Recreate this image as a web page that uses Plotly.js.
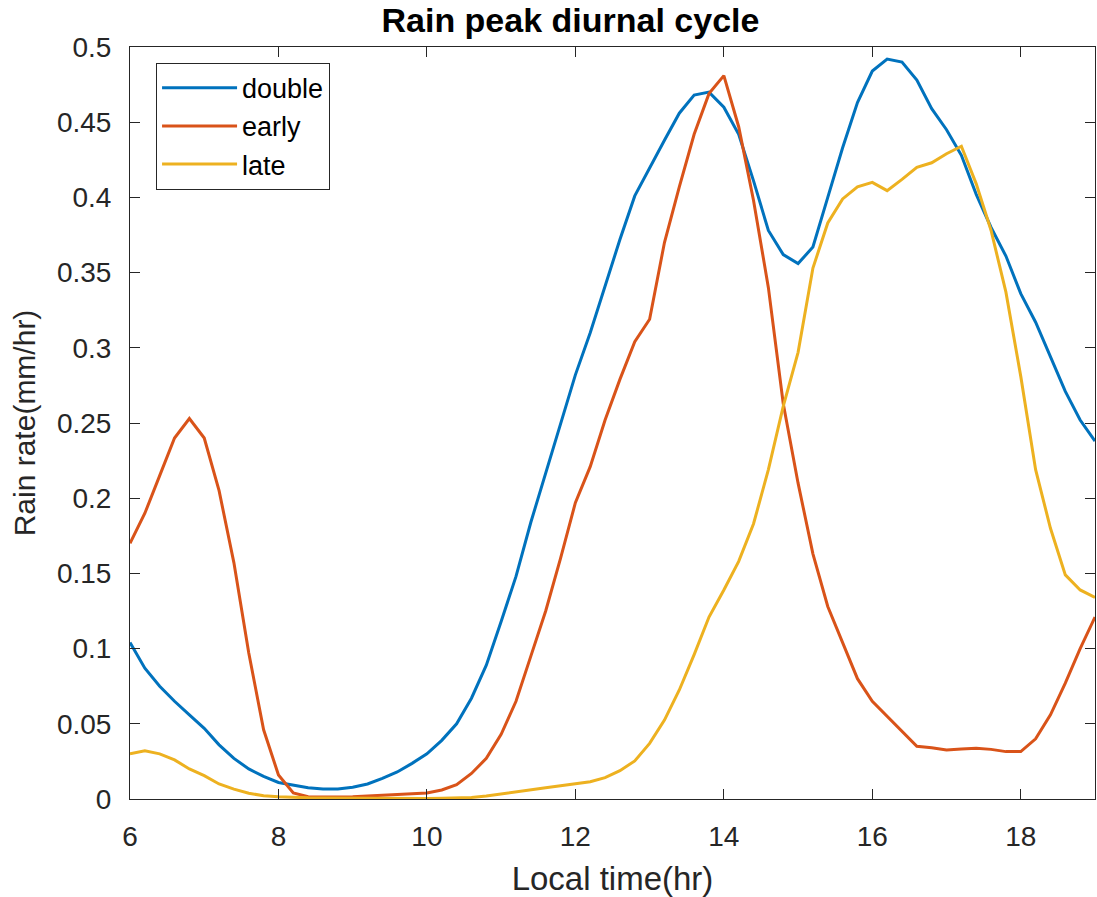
<!DOCTYPE html>
<html>
<head>
<meta charset="utf-8">
<script src="https://cdn.plot.ly/plotly-3.0.1.min.js"></script>
<style>html,body{margin:0;padding:0;background:#fff;}</style>
</head>
<body>
<div id="chart" style="width:1097px;height:897px;"></div>
<script>
const hours = [6.0,6.2,6.4,6.6,6.8,7.0,7.2,7.4,7.6,7.8,8.0,8.2,8.4,8.6,8.8,9.0,9.2,9.4,9.6,9.8,
  10.0,10.2,10.4,10.6,10.8,11.0,11.2,11.4,11.6,11.8,12.0,12.2,12.4,12.6,12.8,13.0,13.2,13.4,13.6,13.8,
  14.0,14.2,14.4,14.6,14.8,15.0,15.2,15.4,15.6,15.8,16.0,16.2,16.4,16.6,16.8,17.0,17.2,17.4,17.6,17.8,
  18.0,18.2,18.4,18.6,18.8,19.0];

const doubleRate = [0.104,0.087,0.075,0.065,0.056,0.047,0.036,0.027,0.020,0.015,0.011,0.009,0.0075,0.0067,0.0066,0.0078,0.010,0.0137,0.018,0.0237,
  0.030,0.039,0.050,0.067,0.089,0.118,0.148,0.184,0.217,0.249,0.282,0.310,0.341,0.372,0.401,0.420,0.438,0.456,0.468,0.470,
  0.460,0.442,0.411,0.378,0.362,0.356,0.367,0.400,0.433,0.463,0.484,0.492,0.490,0.478,0.459,0.445,0.428,0.402,0.380,0.361,
  0.336,0.317,0.294,0.271,0.252,0.238];

const earlyRate = [0.170,0.190,0.215,0.240,0.253,0.240,0.205,0.157,0.097,0.046,0.016,0.004,0.0015,0.0012,0.0013,0.0015,0.002,0.0025,0.003,0.0035,
  0.004,0.006,0.0095,0.017,0.027,0.043,0.065,0.095,0.125,0.160,0.197,0.221,0.252,0.279,0.304,0.319,0.370,0.407,0.442,0.469,
  0.481,0.447,0.398,0.340,0.263,0.210,0.163,0.128,0.104,0.080,0.065,0.055,0.045,0.035,0.034,0.0326,0.0332,0.0337,0.033,0.0315,
  0.0315,0.040,0.056,0.077,0.100,0.121];

const lateRate = [0.030,0.032,0.030,0.026,0.020,0.0155,0.010,0.0066,0.0038,0.0022,0.0015,0.001,0.0008,0.0007,0.0006,0.0005,0.0005,0.0005,0.0004,0.0004,
  0.0004,0.0005,0.0006,0.001,0.002,0.0035,0.005,0.0064,0.0075,0.0088,0.0104,0.0115,0.0142,0.0188,0.0253,0.037,0.0525,0.0725,0.096,0.121,
  0.139,0.158,0.183,0.219,0.261,0.297,0.353,0.383,0.399,0.407,0.410,0.4045,0.412,0.420,0.423,0.429,0.434,0.409,0.378,0.337,
  0.281,0.219,0.180,0.149,0.139,0.134];

const seriesNames = ['double','early','late'];
const xTickVals = [6,8,10,12,14,16,18];
const xTickText = ['6','8','10','12','14','16','18'];
const yTickVals = [0,0.05,0.1,0.15,0.2,0.25,0.3,0.35,0.4,0.45,0.5];
const yTickText = ['0','0.05','0.1','0.15','0.2','0.25','0.3','0.35','0.4','0.45','0.5'];

const colors = ['#0072BD','#D95319','#EDB120'];
const FONT = 'Liberation Sans, Arial, Helvetica, sans-serif';
const AX = '#262626';

const traces = [doubleRate, earlyRate, lateRate].map((ys, i) => ({
  x: hours, y: ys, type: 'scatter', mode: 'lines', name: seriesNames[i],
  line: {color: colors[i], width: 3}
}));

const axisCommon = {
  showline: true, linecolor: AX, linewidth: 1, mirror: 'ticks',
  ticks: 'inside', ticklen: 10, tickwidth: 1, tickcolor: AX,
  showgrid: false, zeroline: false,
  tickfont: {family: FONT, size: 28, color: AX}
};

const layout = {
  width: 1097, height: 897,
  margin: {l: 130, r: 2, t: 47, b: 98},
  paper_bgcolor: '#fff', plot_bgcolor: '#fff',
  font: {family: FONT, color: AX},
  title: {text: 'Rain peak diurnal cycle', font: {family: FONT, size: 34, color: '#000', weight: 'bold'},
    x: 0.52, xref: 'container', xanchor: 'center', y: 0.978, yref: 'container', yanchor: 'middle'},
  xaxis: Object.assign({}, axisCommon, {
    range: [6, 19], tickmode: 'array', tickvals: xTickVals, ticktext: xTickText,
    ticklabelstandoff: 12,
    title: {text: 'Local time(hr)', font: {family: FONT, size: 33, color: AX}, standoff: 16}
  }),
  yaxis: Object.assign({}, axisCommon, {
    range: [0, 0.5], tickmode: 'array', tickvals: yTickVals, ticktext: yTickText,
    ticklabelstandoff: 12,
    title: {text: 'Rain rate(mm/hr)', font: {family: FONT, size: 30, color: AX}, standoff: 12}
  }),
  showlegend: true,
  legend: {x: 0.027, y: 0.979, xanchor: 'left', yanchor: 'top',
    bgcolor: '#fff', bordercolor: AX, borderwidth: 1, itemwidth: 75,
    font: {family: FONT, size: 27, color: '#000'}, tracegroupgap: 0}
};

Plotly.newPlot('chart', traces, layout, {displayModeBar: false, staticPlot: true});
</script>
</body>
</html>
